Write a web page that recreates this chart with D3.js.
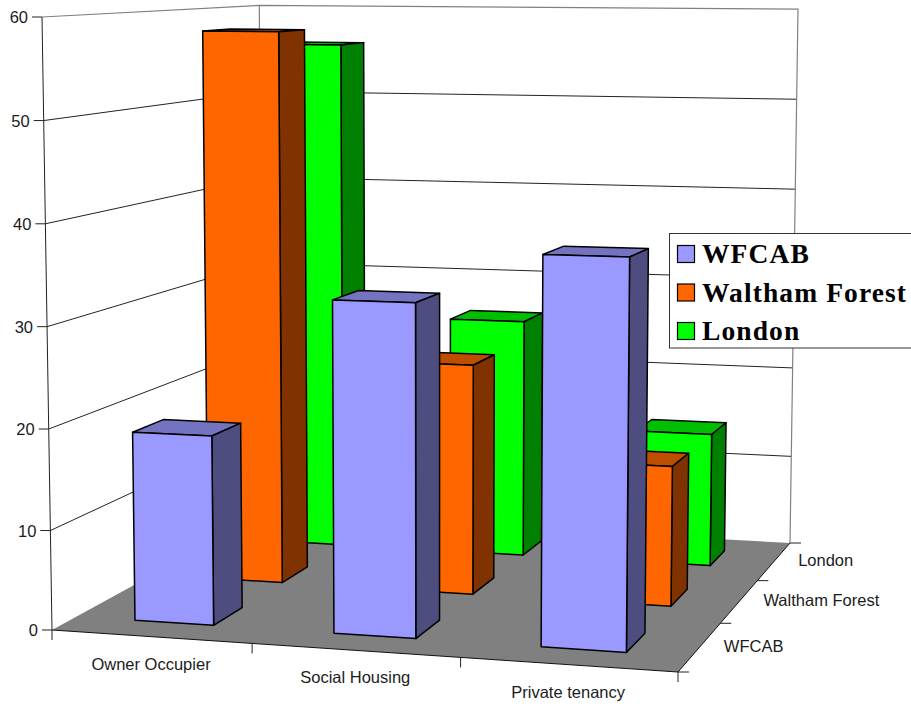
<!DOCTYPE html>
<html>
<head>
<meta charset="utf-8">
<title>Housing tenure</title>
<script src="https://cdnjs.cloudflare.com/ajax/libs/d3/7.8.5/d3.min.js"></script>
<style>
html,body{margin:0;padding:0;background:#fff;overflow:hidden}
svg{display:block}
text{font-family:"Liberation Sans",Arial,sans-serif;font-size:16.5px;fill:#1c1c1c}
.legend text{font-family:"Liberation Serif",Georgia,serif;font-weight:bold;font-size:27.5px;letter-spacing:1.1px;fill:#000}
</style>
</head>
<body>
<svg id="chart" width="911" height="704"></svg>
<script>
const categories = ["Owner Occupier", "Social Housing", "Private tenancy"];
const seriesNames = ["WFCAB", "Waltham Forest", "London"];
const wfcabValues = [19, 32.8, 37.8];
const walthamValues = [58, 24, 14.5];
const londonValues = [56, 26, 14.5];
const valueTicks = [0, 10, 20, 30, 40, 50, 60];

const seriesValues = [wfcabValues, walthamValues, londonValues];
const faceColours = [
  {front: "#9999ff", side: "#4d4d80", top: "#7373bf"},
  {front: "#ff6600", side: "#803300", top: "#bf4d00"},
  {front: "#00ff00", side: "#008000", top: "#00bf00"}
];

// Floor corners on the page: [left-front, right-front, right-back, left-back].
const floorQuad = [[52, 630], [678, 672], [790, 543], [263, 514.5]];
// Verticals lean toward a far vanishing point; wall height shrinks with depth.
const verticalVanish = [436, 24174];
const frontHeight = 613, heightAcross = -0.056, heightInto = 0.204;

// Unit-square to quadrilateral perspective map.
function squareToQuad(q) {
  const [[x0, y0], [x1, y1], [x2, y2], [x3, y3]] = q;
  const dx1 = x1 - x2, dx2 = x3 - x2, sx = x0 - x1 + x2 - x3;
  const dy1 = y1 - y2, dy2 = y3 - y2, sy = y0 - y1 + y2 - y3;
  const det = dx1 * dy2 - dx2 * dy1;
  const g = (sx * dy2 - dx2 * sy) / det;
  const h = (dx1 * sy - sx * dy1) / det;
  const a = x1 - x0 + g * x1, b = x3 - x0 + h * x3;
  const d = y1 - y0 + g * y1, e = y3 - y0 + h * y3;
  return (u, w) => {
    const k = g * u + h * w + 1;
    return [(a * u + b * w + x0) / k, (d * u + e * w + y0) / k];
  };
}
const onFloor = squareToQuad(floorQuad);

// Scales into the unit cube: category across, value up, series into the depth.
const uBand = d3.scaleBand().domain(categories).range([0, 1]).paddingInner(0.6).paddingOuter(0.3);
const wBand = d3.scaleBand().domain(seriesNames).range([0, 1]).paddingInner(0.6).paddingOuter(0.3);
const vScale = d3.scalePow().exponent(1.015).domain([0, 60]).range([0, 1]);

function project(u, v, w) {
  const p = onFloor(u, w);
  const rise = v * frontHeight / (1 + heightAcross * u + heightInto * w);
  const lean = (verticalVanish[0] - p[0]) / (verticalVanish[1] - p[1]);
  return [p[0] - lean * rise, p[1] - rise];
}

const svg = d3.select("#chart");
const outline = d3.line().curve(d3.curveLinearClosed);
const segment = d3.line();

// Gridlines on the side wall and back wall
const grid = svg.append("g").attr("fill", "none");
valueTicks.filter(t => t > 0 && t < 60).forEach(t => {
  const v = vScale(t);
  grid.append("path")
    .attr("d", segment([project(0, v, 0), project(0, v, 1), project(1, v, 1)]))
    .attr("stroke", "#222").attr("stroke-width", 1);
});
grid.append("path")
  .attr("d", segment([project(0, 1, 0), project(0, 1, 1), project(1, 1, 1), project(1, 0, 1)]))
  .attr("stroke", "#808080").attr("stroke-width", 1.2);
grid.append("path")
  .attr("d", segment([project(0, 1, 1), project(0, 0, 1)]))
  .attr("stroke", "#808080").attr("stroke-width", 1.2);

// Floor
svg.append("path")
  .attr("d", outline([onFloor(0,0), onFloor(1,0), onFloor(1,1), onFloor(0,1)]))
  .attr("fill", "#808080").attr("stroke", "none");

// Value axis
const axis = svg.append("g").attr("fill", "none").attr("stroke", "#222").attr("stroke-width", 1);
axis.append("path").attr("d", segment([project(0, 1, 0), onFloor(0, 0), [onFloor(0,0)[0], onFloor(0,0)[1] + 10]]));
valueTicks.forEach(t => {
  const p = project(0, vScale(t), 0);
  axis.append("path").attr("d", segment([[p[0] - 10, p[1]], p]));
  svg.append("text").attr("x", p[0] - 14).attr("y", p[1] + 6).attr("text-anchor", "end").text(t);
});

// Floor front and side edges, their ticks and labels
axis.append("path").attr("d", segment([onFloor(0,0), onFloor(1,0), onFloor(1,1)])).attr("stroke", "#111");
categories.forEach((c, i) => {
  const end = onFloor((i + 1) / categories.length, 0);
  axis.append("path").attr("d", segment([end, [end[0], end[1] + 10]]));
  const mid = onFloor(uBand(c) + uBand.bandwidth() / 2, 0);
  svg.append("text").attr("x", mid[0]).attr("y", mid[1] + 33).attr("text-anchor", "middle").text(c);
});
[0, 1, 2, 3].forEach(i => {
  const end = onFloor(1, i / 3);
  axis.append("path").attr("d", segment([end, [end[0] + 11, end[1]]]));
});
seriesNames.forEach(s => {
  const mid = onFloor(1, wBand(s) + wBand.bandwidth() / 2);
  svg.append("text").attr("x", mid[0] + 24).attr("y", mid[1] + 5).text(s);
});

// Bars, painted from the back row forward
const bars = svg.append("g").attr("stroke", "#000").attr("stroke-width", 1.5).attr("stroke-linejoin", "round");
seriesNames.map((s, i) => i).reverse().forEach(si => {
  const w0 = wBand(seriesNames[si]), w1 = w0 + wBand.bandwidth();
  categories.forEach((c, ci) => {
    const u0 = uBand(c), u1 = u0 + uBand.bandwidth();
    const v = vScale(seriesValues[si][ci]);
    const col = faceColours[si];
    bars.append("path").attr("fill", col.top)
      .attr("d", outline([project(u0,v,w0), project(u1,v,w0), project(u1,v,w1), project(u0,v,w1)]));
    bars.append("path").attr("fill", col.side)
      .attr("d", outline([project(u1,0,w0), project(u1,v,w0), project(u1,v,w1), project(u1,0,w1)]));
    bars.append("path").attr("fill", col.front)
      .attr("d", outline([project(u0,0,w0), project(u1,0,w0), project(u1,v,w0), project(u0,v,w0)]));
  });
});

// Legend
const legend = svg.append("g").attr("class", "legend");
legend.append("rect").attr("x", 669.5).attr("y", 233.5).attr("width", 260).attr("height", 114.5)
  .attr("fill", "#fff").attr("stroke", "#333").attr("stroke-width", 1);
const legendY = d3.scalePoint().domain(seriesNames).range([245.5, 322.5]);
seriesNames.forEach((s, i) => {
  const y = legendY(s);
  legend.append("rect").attr("x", 677.5).attr("y", y).attr("width", 17).attr("height", 17)
    .attr("fill", faceColours[i].front).attr("stroke", "#000").attr("stroke-width", 1.2);
  legend.append("text").attr("x", 702).attr("y", y + 17.5).text(s);
});
</script>
</body>
</html>
